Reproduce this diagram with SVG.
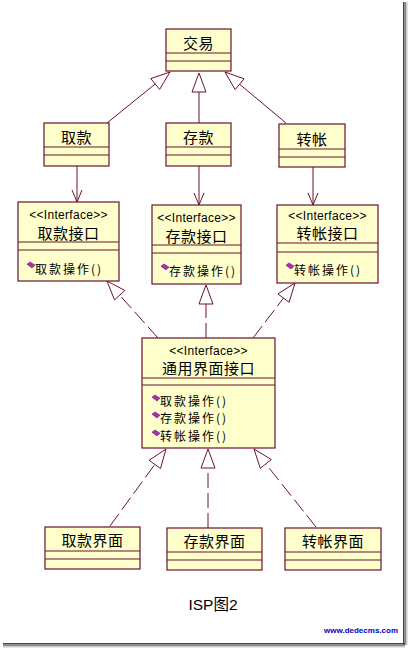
<svg xmlns="http://www.w3.org/2000/svg" width="408" height="648" viewBox="0 0 408 648">
<defs>
<style>
.box{fill:#ffffcc;stroke:#6b1230;stroke-width:1.2}
.div{stroke:#6b1230;stroke-width:1.2;fill:none}
.ln{stroke:#6b1230;stroke-width:1;fill:none}
.dash{stroke:#6b1230;stroke-width:1;fill:none;stroke-dasharray:15 5}
.tri{fill:#ffffff;stroke:#6b1230;stroke-width:1}
.cn{font-family:"Noto Sans CJK SC","Noto Sans CJK JP",sans-serif;font-size:15px;fill:#000;text-anchor:middle;letter-spacing:0.5px}
.st{font-family:"Liberation Sans",Arial,sans-serif;font-size:12px;fill:#000;text-anchor:middle;letter-spacing:0.3px}
.op{font-family:"Noto Sans CJK SC","Noto Sans CJK JP",sans-serif;font-size:12px;fill:#000;letter-spacing:2px}
.dm{fill:#b02cb0;stroke:#6a106a;stroke-width:0.6}
</style>
<symbol id="dmd" viewBox="0 0 8 6" overflow="visible">
<polygon class="dm" points="0,2.2 3,0 8,3.2 5,6"/>
</symbol>
</defs>
<rect width="408" height="648" fill="#ffffff"/>
<!-- frame shadow -->
<rect x="403" y="2" width="1.5" height="643" fill="#444"/>
<rect x="404.5" y="2" width="1.5" height="643" fill="#888"/>
<rect x="406" y="2" width="1.5" height="643" fill="#ccc"/>
<rect x="3" y="643" width="402" height="1.5" fill="#444"/>
<rect x="3" y="644.5" width="402" height="1.5" fill="#888"/>
<rect x="3" y="646" width="402" height="1.5" fill="#ccc"/>

<g id="connectors">
<!-- generalization to 交易 -->
<line class="ln" x1="107" y1="123" x2="155.2" y2="84"/>
<polygon class="tri" points="170,72 150.8,78.6 159.6,89.4"/>
<line class="ln" x1="199" y1="123" x2="199" y2="92"/>
<polygon class="tri" points="199,73 192,92 206,92"/>
<line class="ln" x1="286" y1="123" x2="239.6" y2="84.2"/>
<polygon class="tri" points="225,72 244.1,78.8 235.1,89.6"/>
<!-- associations -->
<line class="ln" x1="77" y1="166" x2="77" y2="202"/>
<polyline class="ln" points="72,190 77,202 82,190"/>
<line class="ln" x1="199" y1="166" x2="199" y2="205"/>
<polyline class="ln" points="194,193 199,205 204,193"/>
<line class="ln" x1="313" y1="167" x2="313" y2="205"/>
<polyline class="ln" points="308,193 313,205 318,193"/>
<!-- realization to interfaces -->
<line class="dash" x1="158" y1="338" x2="119.7" y2="295.2"/>
<polygon class="tri" points="107,281 124.9,290.5 114.5,299.9"/>
<line class="dash" x1="206" y1="338" x2="206" y2="304"/>
<polygon class="tri" points="206,285 199,304 213,304"/>
<line class="dash" x1="253" y1="338" x2="283.5" y2="298.1"/>
<polygon class="tri" points="295,283 289.1,302.3 277.9,293.9"/>
<!-- realization to 通用界面接口 -->
<line class="dash" x1="110" y1="526" x2="154.8" y2="464.4"/>
<polygon class="tri" points="166,449 160.5,468.5 149.1,460.3"/>
<line class="dash" x1="208" y1="528" x2="208" y2="468"/>
<polygon class="tri" points="208,449 201,468 215,468"/>
<line class="dash" x1="316" y1="527" x2="265.8" y2="463.9"/>
<polygon class="tri" points="254,449 271.3,459.5 260.3,468.3"/>
</g>

<g id="jiaoyi">
<rect class="box" x="166" y="29" width="65" height="42"/>
<line class="div" x1="166" y1="53" x2="231" y2="53"/>
<line class="div" x1="166" y1="61" x2="231" y2="61"/>
<text class="cn" x="198.5" y="49">交易</text>
</g>

<g id="qukuan">
<rect class="box" x="44" y="123" width="65" height="43"/>
<line class="div" x1="44" y1="147" x2="109" y2="147"/>
<line class="div" x1="44" y1="155" x2="109" y2="155"/>
<text class="cn" x="76.5" y="143">取款</text>
</g>

<g id="cunkuan">
<rect class="box" x="166" y="123" width="65" height="43"/>
<line class="div" x1="166" y1="147" x2="231" y2="147"/>
<line class="div" x1="166" y1="155" x2="231" y2="155"/>
<text class="cn" x="198.5" y="143">存款</text>
</g>

<g id="zhuanzhang">
<rect class="box" x="279" y="124" width="66" height="43"/>
<line class="div" x1="279" y1="149" x2="345" y2="149"/>
<line class="div" x1="279" y1="157" x2="345" y2="157"/>
<text class="cn" x="312" y="145">转帐</text>
</g>

<g id="qukuan-jiekou">
<rect class="box" x="18" y="202" width="101" height="79"/>
<line class="div" x1="18" y1="242" x2="119" y2="242"/>
<line class="div" x1="18" y1="250" x2="119" y2="250"/>
<text class="st" x="68.5" y="219">&lt;&lt;Interface&gt;&gt;</text>
<text class="cn" x="68.5" y="238.5">取款接口</text>
<use href="#dmd" x="27" y="262" width="8" height="6"/>
<text class="op" x="35" y="273.5">取款操作()</text>
</g>

<g id="cunkuan-jiekou">
<rect class="box" x="152" y="205" width="89" height="79"/>
<line class="div" x1="152" y1="245" x2="241" y2="245"/>
<line class="div" x1="152" y1="253" x2="241" y2="253"/>
<text class="st" x="196.5" y="222">&lt;&lt;Interface&gt;&gt;</text>
<text class="cn" x="196.5" y="241.5">存款接口</text>
<use href="#dmd" x="161" y="264" width="8" height="6"/>
<text class="op" x="169" y="275.5">存款操作()</text>
</g>

<g id="zhuanzhang-jiekou">
<rect class="box" x="277" y="205" width="101" height="78"/>
<line class="div" x1="277" y1="243" x2="378" y2="243"/>
<line class="div" x1="277" y1="252" x2="378" y2="252"/>
<text class="st" x="327.5" y="219.5">&lt;&lt;Interface&gt;&gt;</text>
<text class="cn" x="327.5" y="239">转帐接口</text>
<use href="#dmd" x="286" y="263" width="8" height="6"/>
<text class="op" x="294" y="274.5">转帐操作()</text>
</g>

<g id="tongyong-jiemian-jiekou">
<rect class="box" x="142" y="338" width="133" height="110"/>
<line class="div" x1="142" y1="378" x2="275" y2="378"/>
<line class="div" x1="142" y1="385" x2="275" y2="385"/>
<text class="st" x="208.5" y="355">&lt;&lt;Interface&gt;&gt;</text>
<text class="cn" x="208.5" y="373.5">通用界面接口</text>
<use href="#dmd" x="152" y="395" width="8" height="6"/>
<text class="op" x="160" y="406">取款操作()</text>
<use href="#dmd" x="152" y="412" width="8" height="6"/>
<text class="op" x="160" y="423">存款操作()</text>
<use href="#dmd" x="152" y="430" width="8" height="6"/>
<text class="op" x="160" y="441">转帐操作()</text>
</g>

<g id="qukuan-jiemian">
<rect class="box" x="45" y="527" width="95" height="42"/>
<line class="div" x1="45" y1="551" x2="140" y2="551"/>
<line class="div" x1="45" y1="559" x2="140" y2="559"/>
<text class="cn" x="92.5" y="545.5">取款界面</text>
</g>

<g id="cunkuan-jiemian">
<rect class="box" x="167" y="528" width="95" height="42"/>
<line class="div" x1="167" y1="552" x2="262" y2="552"/>
<line class="div" x1="167" y1="560" x2="262" y2="560"/>
<text class="cn" x="214.5" y="546.5">存款界面</text>
</g>

<g id="zhuanzhang-jiemian">
<rect class="box" x="285" y="528" width="96" height="42"/>
<line class="div" x1="285" y1="552" x2="381" y2="552"/>
<line class="div" x1="285" y1="560" x2="381" y2="560"/>
<text class="cn" x="333" y="546.5">转帐界面</text>
</g>

<text x="213" y="610" font-family="Liberation Sans, Noto Sans CJK SC, sans-serif" font-size="15.5" text-anchor="middle" fill="#000">ISP图2</text>
<text x="398" y="633" font-family="Liberation Sans, Arial, sans-serif" font-size="8" font-weight="bold" text-anchor="end" fill="#0000cc">www.dedecms.com</text>
</svg>
